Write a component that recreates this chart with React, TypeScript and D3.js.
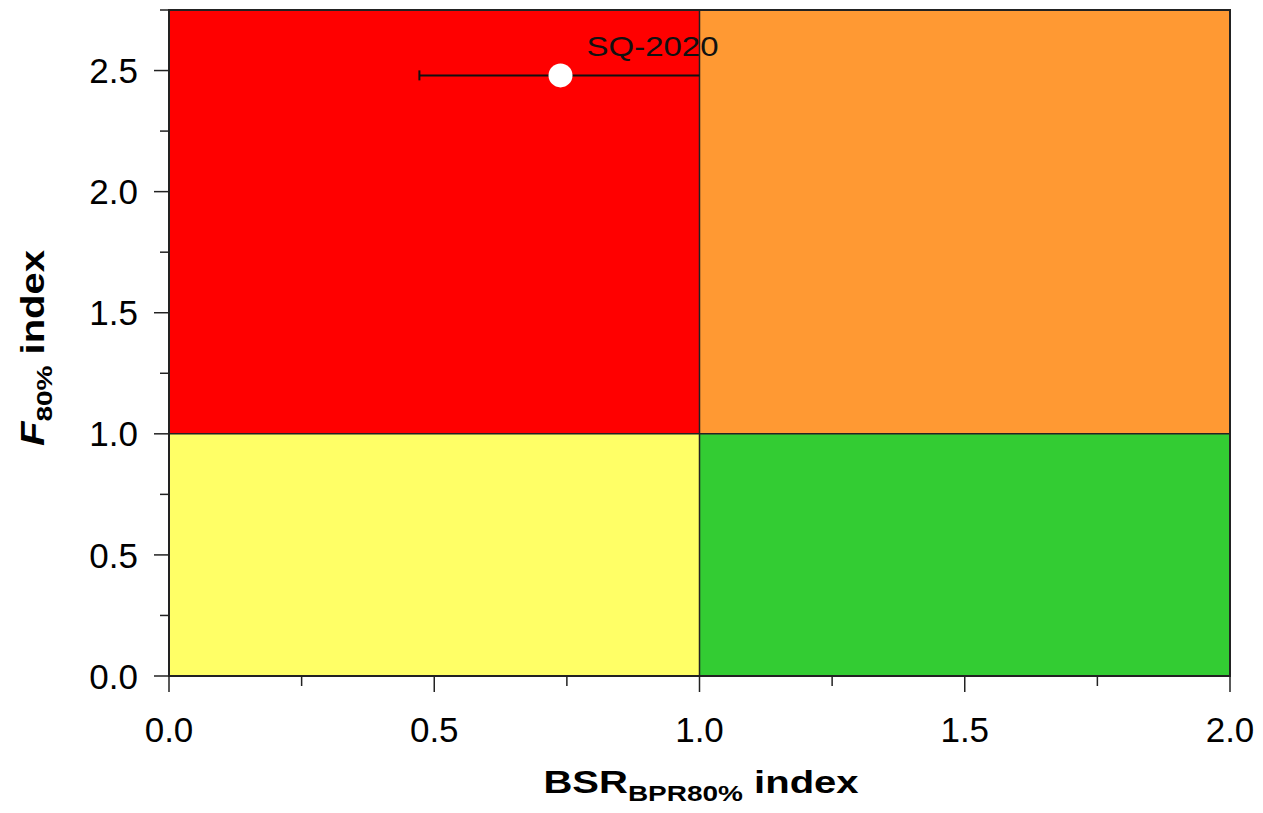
import React, { useRef, useEffect } from "react";
import { select, scaleLinear, range } from "d3";

// quadrant zones (x0, x1, y0, y1, colour)
const zoneX = [[0, 1], [1, 2], [0, 1], [1, 2]];
const zoneY = [[1, 2.75], [1, 2.75], [0, 1], [0, 1]];
const zoneColors = ["#ff0000", "#ff9933", "#ffff66", "#33cc33"];

// the one point with its error bar
const pointNames = ["SQ-2020"];
const pointX = [0.738];
const pointY = [2.48];
const pointXLow = [0.472];
const pointXHigh = [1.0];

const xTicks = [0, 0.5, 1, 1.5, 2];
const yTicks = [0, 0.5, 1, 1.5, 2, 2.5];

function App() {
  const svgRef = useRef(null);

  useEffect(() => {
    const W = 1263, H = 813;
    const left = 169, right = 1230, top = 10, bottom = 676;
    const svg = select(svgRef.current);
    svg.selectAll("*").remove();

    const x = scaleLinear().domain([0, 2]).range([left, right]);
    const y = scaleLinear().domain([0, 2.75]).range([bottom, top]);
    const font = "'Liberation Sans', Arial, sans-serif";

    // zones
    svg.selectAll(".zone")
      .data(zoneColors)
      .join("rect")
      .attr("x", (d, i) => x(zoneX[i][0]))
      .attr("width", (d, i) => x(zoneX[i][1]) - x(zoneX[i][0]))
      .attr("y", (d, i) => y(zoneY[i][1]))
      .attr("height", (d, i) => y(zoneY[i][0]) - y(zoneY[i][1]))
      .attr("fill", d => d);

    // reference lines at 1.0
    svg.append("line")
      .attr("x1", x(1)).attr("x2", x(1)).attr("y1", y(0)).attr("y2", y(2.75))
      .attr("stroke", "#222").attr("stroke-width", 1.5);
    svg.append("line")
      .attr("x1", x(0)).attr("x2", x(2)).attr("y1", y(1)).attr("y2", y(1))
      .attr("stroke", "#222").attr("stroke-width", 1.5);

    // frame
    svg.append("rect")
      .attr("x", left).attr("y", top)
      .attr("width", right - left).attr("height", bottom - top)
      .attr("fill", "none").attr("stroke", "#222").attr("stroke-width", 2);

    // y ticks
    const yMinor = range(0, 2.76, 0.25);
    svg.selectAll(".ytick")
      .data(yMinor)
      .join("line")
      .attr("x1", d => (yTicks.includes(d) ? left - 15 : left - 9))
      .attr("x2", left)
      .attr("y1", d => y(d)).attr("y2", d => y(d))
      .attr("stroke", "#222").attr("stroke-width", 1.5);
    svg.selectAll(".ylab")
      .data(yTicks)
      .join("text")
      .attr("x", 138)
      .attr("y", d => y(d))
      .attr("dy", "0.36em")
      .attr("text-anchor", "end")
      .attr("font-family", font)
      .attr("font-size", 35)
      .text(d => d.toFixed(1));

    // x ticks
    const xMinor = range(0, 2.01, 0.25);
    svg.selectAll(".xtick")
      .data(xMinor)
      .join("line")
      .attr("x1", d => x(d)).attr("x2", d => x(d))
      .attr("y1", bottom)
      .attr("y2", d => (xTicks.includes(d) ? bottom + 16 : bottom + 10))
      .attr("stroke", "#222").attr("stroke-width", 1.5);
    svg.selectAll(".xlab")
      .data(xTicks)
      .join("text")
      .attr("x", d => x(d))
      .attr("y", 742)
      .attr("text-anchor", "middle")
      .attr("font-family", font)
      .attr("font-size", 35)
      .text(d => d.toFixed(1));

    // axis titles
    const xt = svg.append("text")
      .attr("transform", "translate(701,793) scale(1,0.8)")
      .attr("text-anchor", "middle")
      .attr("font-family", font)
      .attr("font-weight", "bold")
      .attr("font-size", 40);
    xt.append("tspan").text("BSR");
    xt.append("tspan").attr("font-size", 28).attr("dy", 10).text("BPR80%");
    xt.append("tspan").attr("dy", -10).text(" index");

    const yt = svg.append("text")
      .attr("transform", "translate(44,348) rotate(-90) scale(1,0.82)")
      .attr("text-anchor", "middle")
      .attr("font-family", font)
      .attr("font-weight", "bold")
      .attr("font-size", 40);
    yt.append("tspan").attr("font-style", "italic").text("F");
    yt.append("tspan").attr("font-size", 28).attr("dy", 10).text("80%");
    yt.append("tspan").attr("dy", -10).text(" index");

    // error bar + point
    pointNames.forEach((name, i) => {
      const py = y(pointY[i]);
      svg.append("line")
        .attr("x1", x(pointXLow[i])).attr("x2", x(pointXHigh[i]))
        .attr("y1", py).attr("y2", py)
        .attr("stroke", "#111").attr("stroke-width", 2);
      svg.append("line")
        .attr("x1", x(pointXLow[i])).attr("x2", x(pointXLow[i]))
        .attr("y1", py - 5).attr("y2", py + 5)
        .attr("stroke", "#111").attr("stroke-width", 2);
      svg.append("circle")
        .attr("cx", x(pointX[i])).attr("cy", py).attr("r", 12)
        .attr("fill", "#fff");
      svg.append("text")
        .attr("transform", `translate(${x(pointX[i]) + 26},${py - 19}) scale(1,0.85)`)
        .attr("font-family", font)
        .attr("font-size", 33)
        .attr("fill", "#111")
        .text(name);
    });

    svg.attr("width", W).attr("height", H);
  }, []);

  return (
    <svg
      ref={svgRef}
      width={1263}
      height={813}
      style={{ position: "absolute", left: 0, top: 0, background: "#fff" }}
    />
  );
}

export default App;
